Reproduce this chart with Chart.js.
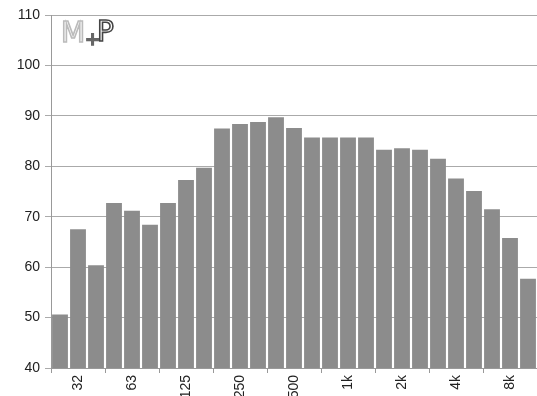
<!DOCTYPE html>
<html><head><meta charset="utf-8">
<script src="https://cdn.jsdelivr.net/npm/chart.js@4/dist/chart.umd.min.js"></script>
<style>html,body{margin:0;padding:0;background:#fff}#w{width:537px;height:396px}</style>
</head><body><div id="w"><canvas id="c"></canvas></div>
<script>
const categories = ['25','31.5','40','50','63','80','100','125','160','200','250','315','400','500','630','800','1k','1.25k','1.6k','2k','2.5k','3.15k','4k','5k','6.3k','8k','10k'];
const tickLabels = ['','32','','','63','','','125','','','250','','','500','','','1k','','','2k','','','4k','','','8k',''];
const levels = [50.6,67.5,60.4,72.7,71.2,68.4,72.7,77.3,79.7,87.5,88.4,88.8,89.7,87.6,85.7,85.7,85.7,85.7,83.3,83.6,83.3,81.5,77.6,75.1,71.5,65.8,57.7];
const yTicks = [40,50,60,70,80,90,100,110];

const logo = {
  id:'logo',
  afterDraw(chart){
    const c = chart.ctx, a = chart.chartArea;
    c.save();
    c.textBaseline = 'top';
    c.lineWidth = 1.6;
    c.font = '28px "DejaVu Sans"';
    c.strokeStyle = '#bbb';
    c.strokeText('M', a.left+10, a.top+6);
    c.font = '18px "DejaVu Sans"';
    c.strokeStyle = '#666';
    c.strokeText('+', a.left+34, a.top+16);
    c.font = '28px "DejaVu Sans"';
    c.strokeStyle = '#444';
    c.strokeText('P', a.left+46, a.top+5);
    c.restore();
  }
};

new Chart(document.getElementById('c'), {
  type:'bar',
  data:{ labels: categories, datasets:[{ data: levels, backgroundColor:'#8c8c8c', borderWidth:0, barPercentage:0.88, categoryPercentage:1 }]},
  options:{
    responsive:true, maintainAspectRatio:false, animation:false,
    layout:{ padding:{ top:8, right:0, left:0, bottom:0 } },
    plugins:{ legend:{display:false}, tooltip:{enabled:false} },
    scales:{
      x:{
        offset:true,
        grid:{ offset:true, drawOnChartArea:false, drawTicks:true, tickLength:5,
               color:(ctx)=> (ctx.index % 3 === 0 ? '#999' : 'rgba(0,0,0,0)') },
        border:{ color:'#999', width:1 },
        ticks:{ autoSkip:false, maxRotation:90, minRotation:90, color:'#222', padding:2,
                font:{ family:'Liberation Sans', size:14 },
                callback:(v,i)=> tickLabels[i] },
        afterFit:(s)=>{ s.height = 28; s.paddingRight = 0; s.paddingLeft = 0; }
      },
      y:{
        min:40, max:110,
        afterBuildTicks:(s)=>{ s.ticks = yTicks.map(v=>({value:v})); },
        grid:{ color:'#aaa', lineWidth:1, tickLength:6 },
        border:{ color:'#999', width:1 },
        ticks:{ color:'#222', padding:5, font:{ family:'Liberation Sans', size:14 } },
        afterFit:(s)=>{ s.width = 51; s.paddingTop = 15; s.paddingBottom = 0; }
      }
    }
  },
  plugins:[logo]
});
</script>
</body></html>
